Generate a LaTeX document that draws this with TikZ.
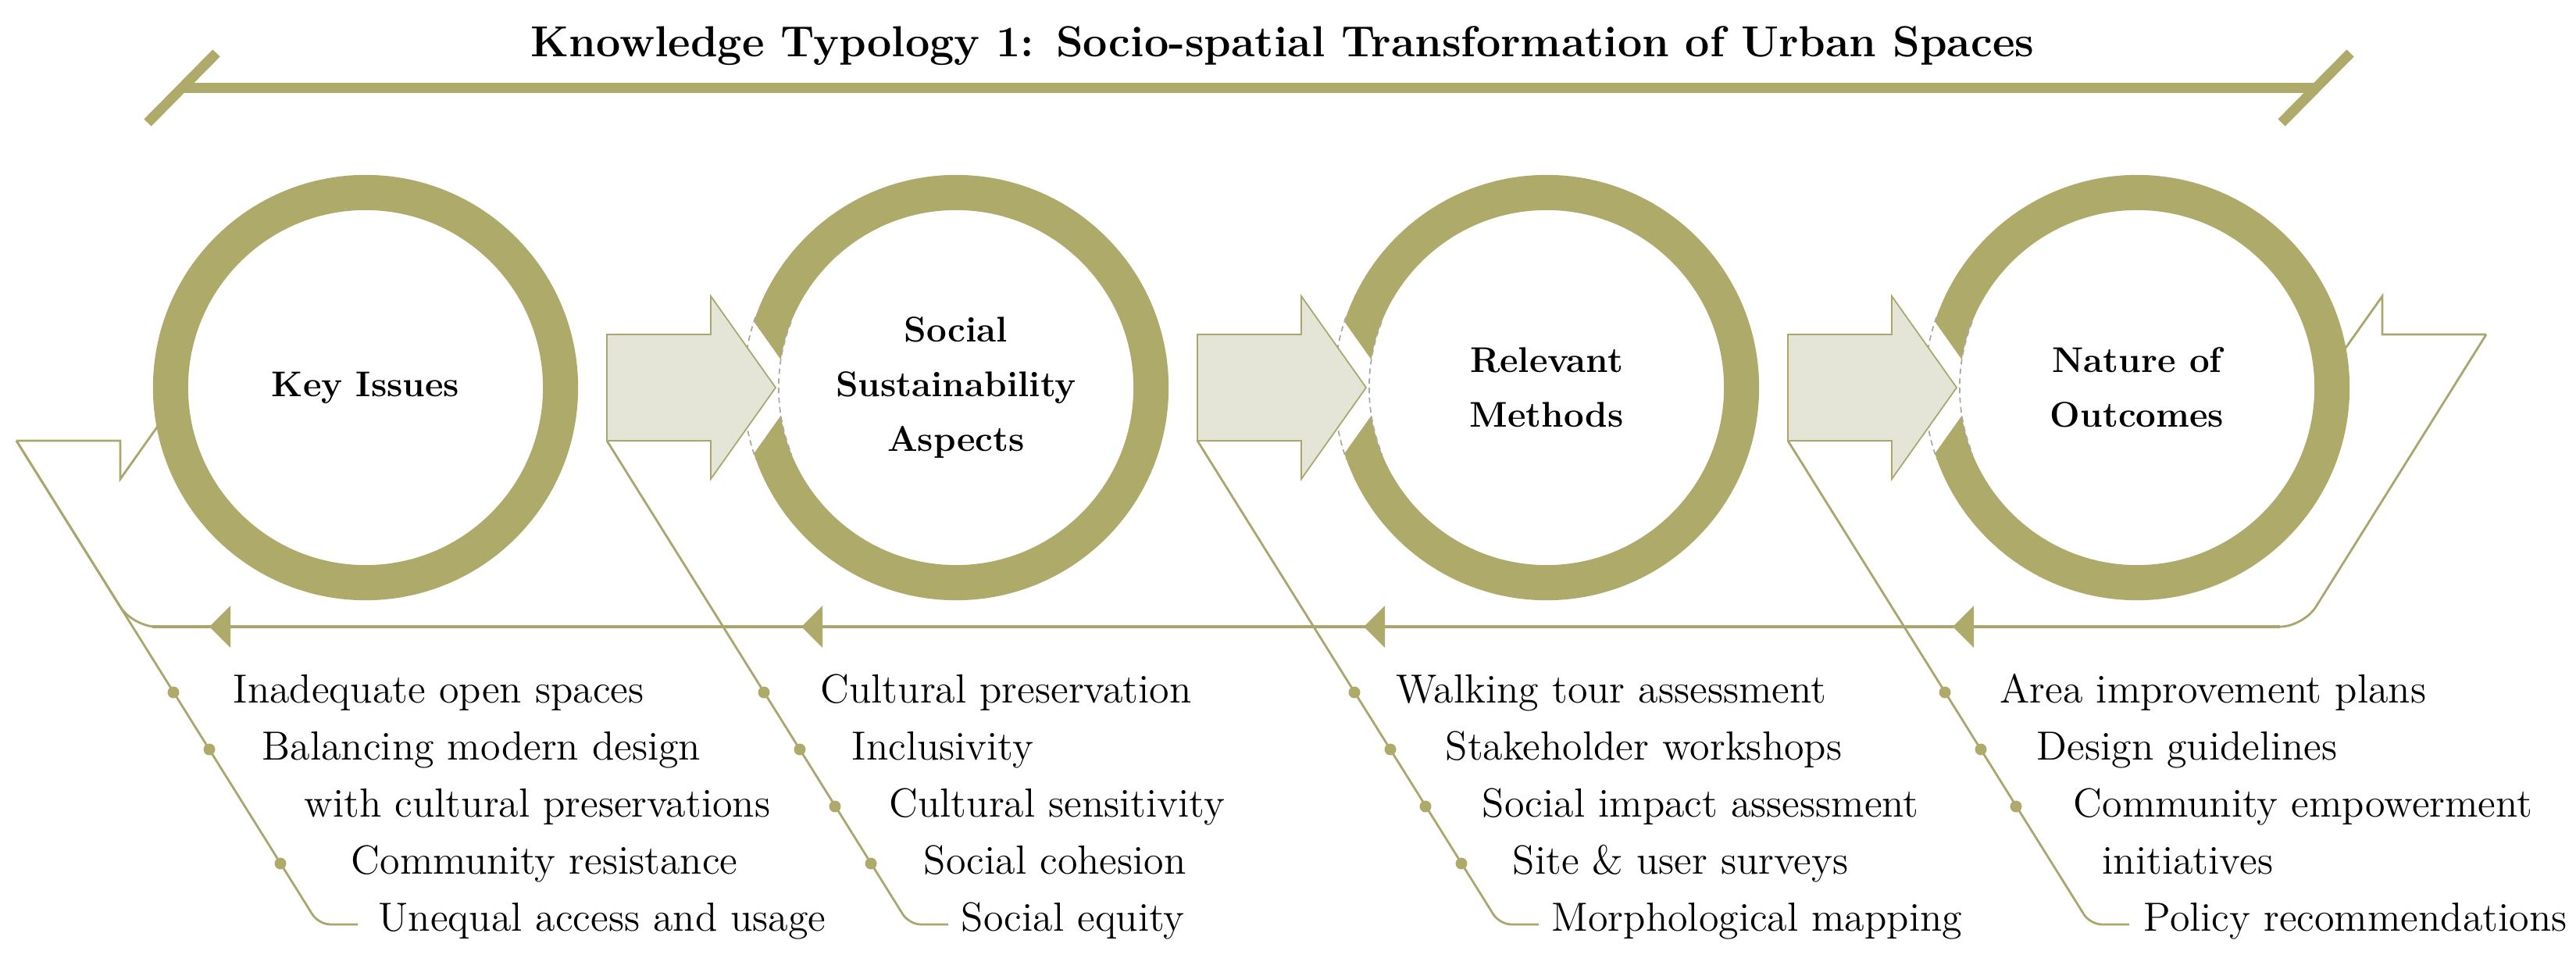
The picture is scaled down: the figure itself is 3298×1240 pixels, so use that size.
\documentclass[tikz,border=0pt]{standalone}
\usepackage{tikz}
\usetikzlibrary{calc,positioning,backgrounds}
\definecolor{RingOlive}{RGB}{174,170,106}
\definecolor{ArrowFill}{RGB}{229,229,215}
\definecolor{LineOlive}{RGB}{170,167,110}
\definecolor{NotchGray}{RGB}{170,170,160}
\tikzset{
  ring/.style={circle,draw=RingOlive,line width=0.45cm,minimum size=4.99cm,
               inner sep=0pt,align=center,
               font=\fontsize{13}{20}\selectfont\bfseries},
  blockarr/.style={draw=LineOlive,fill=ArrowFill,line width=0.5pt},
  notch/.style={draw=white,line width=0.52cm,line join=round},
  notchdash/.style={draw=NotchGray,line width=0.5pt,dash pattern=on 2pt off 1.5pt},
  loopline/.style={draw=LineOlive,line width=0.8pt},
  backline/.style={draw=LineOlive,line width=1.3pt},
  backtip/.style={fill=RingOlive},
  itemdot/.style={circle,fill=RingOlive,inner sep=0pt,minimum size=0.15cm},
  itemtext/.style={anchor=base west,inner sep=0pt,
                   font=\fontsize{14.8}{17}\selectfont},
  topbar/.style={draw=RingOlive,line width=0.13cm},
}

\begin{document}
\begin{tikzpicture}[x=0.01cm,y=-0.01cm]
    \useasboundingbox (0,0) rectangle (3298,1240);

    % Title and top bar
    \node[font=\fontsize{15.8}{19}\selectfont\bfseries, anchor=base] (title) at (1642,73) {Knowledge Typology 1: Socio-spatial Transformation of Urban Spaces};
    \coordinate (barL) at (233,113);
    \coordinate (barR) at (2965,113);
    \draw[topbar] (barL) -- (barR);
    \draw[topbar] ($(barL)+(-44,44)$) -- ($(barL)+(44,-45)$);
    \draw[topbar] ($(barR)+(-44,44)$) -- ($(barR)+(44,-45)$);

    % Rings
    \node[ring] (issues) at (468,496) {Key Issues};
    \node[ring] (aspects) at (1224,496) {Social\\Sustainability\\Aspects};
    \node[ring] (methods) at (1980,496) {Relevant\\Methods};
    \node[ring] (outcomes) at (2736,496) {Nature of\\Outcomes};

    % Return loop behind the rings
    \coordinate (loopR) at ($(outcomes.center)+(447,-68)$);
    \coordinate (loopL) at ($(issues.center)+(-447,68)$);
    \coordinate (loopRB) at ($(loopR)+(-234,374)$);
    \coordinate (loopLB) at ($(loopL)+(149,238)$);
    \begin{scope}[on background layer]
      \draw[loopline] ($(outcomes.center)+(231,0)$) -- ++(83,-117) -- ++(0,49) -- (loopR);
      \draw[loopline] ($(issues.center)+(-231,0)$) -- ++(-83,117) -- ++(0,-49) -- (loopL);
      \draw[loopline, rounded corners=0.3cm] (loopR) -- (loopRB) -- (loopLB) -- (loopL);
      \draw[backline] ($(loopRB)+(-30,0)$) -- ($(loopLB)+(25,0)$);
    \end{scope}
    \foreach \t in {268,1026,1746,2500}
      \fill[backtip] (\t,802) -- ++(27,-27) -- ++(0,54) -- cycle;

    % Item guides
    \foreach \r in {issues,aspects,methods,outcomes}
      \draw[loopline, rounded corners=0.15cm] ($(\r.center)+(-447,68)$) -- ++(387,619) -- ++(50,0);

    % Bullets
    \foreach \dx/\dy [count=\n] in {-246/390,-200/463,-109/609}
      \node[itemdot] (issues-dot\n) at ($(issues.center)+(\dx,\dy)$) {};
    \foreach \dx/\dy [count=\n] in {-246/390,-200/463,-155/536,-109/609}
      \node[itemdot] (aspects-dot\n) at ($(aspects.center)+(\dx,\dy)$) {};
    \foreach \dx/\dy [count=\n] in {-246/390,-200/463,-155/536,-109/609}
      \node[itemdot] (methods-dot\n) at ($(methods.center)+(\dx,\dy)$) {};
    \foreach \dx/\dy [count=\n] in {-246/390,-200/463,-155/536}
      \node[itemdot] (outcomes-dot\n) at ($(outcomes.center)+(\dx,\dy)$) {};

    % Block arrows between rings
    \foreach \r in {aspects,methods,outcomes}{
      \draw[notch] ($(\r.center)+(-314,-117)$) -- ($(\r.center)+(-231,0)$) -- ($(\r.center)+(-314,117)$);
      \begin{scope}
        \clip ($(\r.center)+(-290,-92)$) rectangle ($(\r.center)+(-210,92)$);
        \draw[notchdash] (\r.center) circle[radius=2.72cm] (\r.center) circle[radius=2.27cm];
      \end{scope}
      \draw[blockarr] ($(\r.center)+(-447,-68)$) -- ++(133,0) -- ++(0,-49) -- ++(83,117)
                      -- ++(-83,117) -- ++(0,-49) -- ++(-133,0) -- cycle;
    }

    % Labels
    \foreach \x/\y/\txt [count=\n] in {298/899/Inadequate open spaces,
        335/972/Balancing modern design, 389/1045/with cultural preservations,
        449/1118/Community resistance, 484/1191/Unequal access and usage}
      \node[itemtext] (issue\n) at (\x,\y) {\txt};
    \foreach \x/\y/\txt [count=\n] in {1050/899/Cultural preservation,
        1090/972/Inclusivity, 1138/1045/Cultural sensitivity,
        1182/1118/Social cohesion, 1230/1191/Social equity}
      \node[itemtext] (aspect\n) at (\x,\y) {\txt};
    \foreach \x/\y/\txt [count=\n] in {1787/899/Walking tour assessment,
        1850/972/Stakeholder workshops, 1897/1045/Social impact assessment,
        1936/1118/Site \& user surveys, 1986/1191/Morphological mapping}
      \node[itemtext] (method\n) at (\x,\y) {\txt};
    \foreach \x/\y/\txt [count=\n] in {2560/899/Area improvement plans,
        2607/972/Design guidelines, 2654/1045/Community empowerment,
        2691/1118/initiatives, 2744/1191/Policy recommendations}
      \node[itemtext] (outcome\n) at (\x,\y) {\txt};
\end{tikzpicture}
\end{document}
